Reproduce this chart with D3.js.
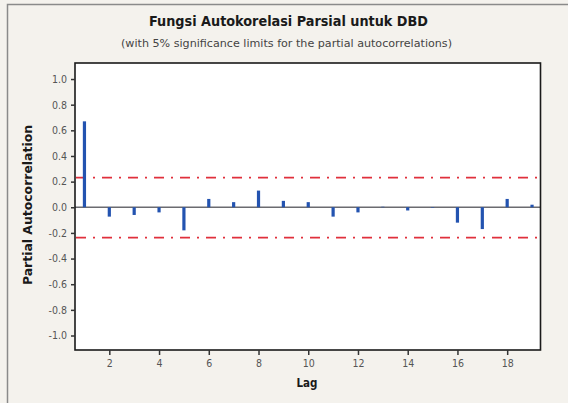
<!DOCTYPE html>
<html>
<head>
<meta charset="utf-8">
<style>
body { margin: 0; background: #f4f2ed; }
svg { display: block; font-family: "DejaVu Sans", Verdana, sans-serif; }
</style>
</head>
<body>
<svg width="568" height="403"></svg>
<script src="https://d3js.org/d3.v7.min.js"></script>
<script>

// data
var lags = [1, 2, 3, 4, 5, 6, 7, 8, 9, 10, 11, 12, 13, 14, 15, 16, 17, 18, 19];
var pacf = [0.67, -0.073, -0.06, -0.04, -0.18, 0.065, 0.04, 0.13, 0.05, 0.04,
            -0.073, -0.04, 0.004, -0.025, -0.004, -0.12, -0.17, 0.065, 0.02];
var limit = [0.231, -0.237];
var yTicks = [-1.0, -0.8, -0.6, -0.4, -0.2, 0.0, 0.2, 0.4, 0.6, 0.8, 1.0];
var xTicks = [2, 4, 6, 8, 10, 12, 14, 16, 18];

var svg = d3.select("svg");

var plot = { left: 75, right: 540.5, top: 63, bottom: 350 };
var cond = "'DejaVu Sans Condensed', 'DejaVu Sans', sans-serif";

// outer frame (cropped at right and bottom)
svg.append("rect")
    .attr("x", 7.5).attr("y", 4.5)
    .attr("width", 600).attr("height", 500)
    .attr("fill", "#f4f2ed")
    .attr("stroke", "#8a8a8a")
    .attr("stroke-width", 1.5);

var x = d3.scaleLinear().domain([0.62, 19.34]).range([plot.left, plot.right]);
var y = d3.scaleLinear().domain([-1.113, 1.125]).range([plot.bottom, plot.top]);

svg.append("rect")
    .attr("x", plot.left).attr("y", plot.top)
    .attr("width", plot.right - plot.left).attr("height", plot.bottom - plot.top)
    .attr("fill", "#ffffff");

// significance limits
svg.selectAll("line.limit")
    .data(limit)
  .enter().append("line")
    .attr("class", "limit")
    .attr("x1", plot.left + 1).attr("x2", plot.right - 2)
    .attr("y1", function(d) { return y(d); })
    .attr("y2", function(d) { return y(d); })
    .attr("stroke", "#e0303c")
    .attr("stroke-width", 1.6)
    .attr("stroke-dasharray", "10,7,2,7");

// zero line
svg.append("line")
    .attr("x1", plot.left).attr("x2", plot.right)
    .attr("y1", y(0)).attr("y2", y(0))
    .attr("stroke", "#6b6b70")
    .attr("stroke-width", 1.6);

// bars
svg.selectAll("rect.bar")
    .data(lags)
  .enter().append("rect")
    .attr("class", "bar")
    .attr("x", function(d) { return x(d) - 1.6; })
    .attr("width", 3.2)
    .attr("y", function(d, i) { return y(Math.max(0, pacf[i])); })
    .attr("height", function(d, i) { return Math.abs(y(pacf[i]) - y(0)); })
    .attr("fill", "#2353b0");

// plot border
svg.append("rect")
    .attr("x", plot.left).attr("y", plot.top)
    .attr("width", plot.right - plot.left).attr("height", plot.bottom - plot.top)
    .attr("fill", "none")
    .attr("stroke", "#1a1a1a")
    .attr("stroke-width", 1.6);

// axes
var fmt = function(d) { return d3.format(".1f")(d).replace("\u2212", "-"); };

var yAxis = svg.append("g")
    .attr("transform", "translate(" + plot.left + ",0)")
    .call(d3.axisLeft(y).tickValues(yTicks).tickFormat(fmt).tickSize(4).tickPadding(4));

var xAxis = svg.append("g")
    .attr("transform", "translate(0," + plot.bottom + ")")
    .call(d3.axisBottom(x).tickValues(xTicks).tickSize(5).tickPadding(5));

[yAxis, xAxis].forEach(function(a) {
  a.select(".domain").remove();
  a.selectAll(".tick line").attr("stroke", "#333").attr("stroke-width", 1.5);
  a.selectAll(".tick text")
      .attr("fill", "#555")
      .style("font-family", cond)
      .style("font-size", "10.5px");
});

// titles
svg.append("text")
    .attr("x", 288.5).attr("y", 26)
    .attr("text-anchor", "middle")
    .attr("textLength", 279)
    .attr("lengthAdjust", "spacingAndGlyphs")
    .style("font-size", "13.5px")
    .style("font-weight", "bold")
    .style("font-family", cond)
    .attr("fill", "#1a1a1a")
    .text("Fungsi Autokorelasi Parsial untuk DBD");

svg.append("text")
    .attr("x", 286.5).attr("y", 46.5)
    .attr("text-anchor", "middle")
    .attr("textLength", 331)
    .attr("lengthAdjust", "spacingAndGlyphs")
    .style("font-size", "10.5px")
    .style("font-family", cond)
    .attr("fill", "#444")
    .text("(with 5% significance limits for the partial autocorrelations)");

svg.append("text")
    .attr("transform", "translate(32,205) rotate(-90)")
    .attr("text-anchor", "middle")
    .attr("textLength", 160)
    .attr("lengthAdjust", "spacingAndGlyphs")
    .style("font-size", "11.5px")
    .style("font-weight", "bold")
    .style("font-family", cond)
    .attr("fill", "#1a1a1a")
    .text("Partial Autocorrelation");

svg.append("text")
    .attr("x", 307).attr("y", 387)
    .attr("text-anchor", "middle")
    .style("font-size", "11.5px")
    .style("font-weight", "bold")
    .style("font-family", cond)
    .attr("fill", "#1a1a1a")
    .text("Lag");

</script>
</body>
</html>
